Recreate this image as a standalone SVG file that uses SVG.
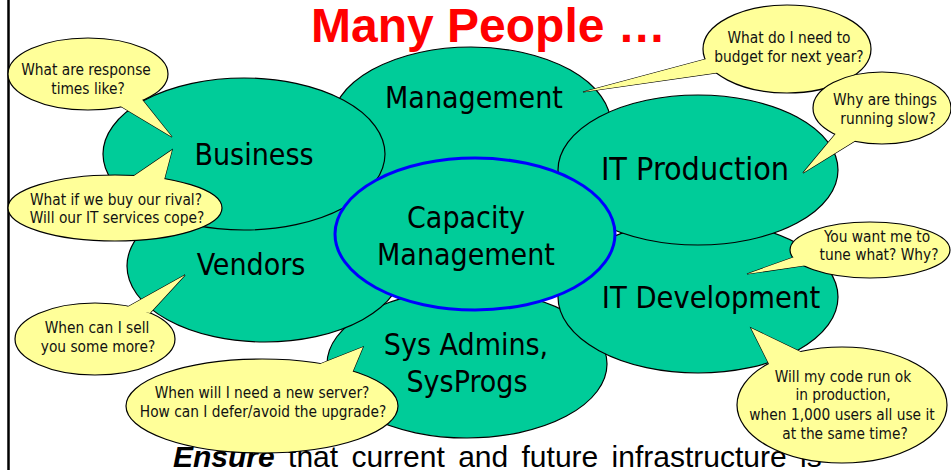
<svg xmlns="http://www.w3.org/2000/svg" width="951" height="470" viewBox="0 0 951 470">
<style>
.grp{fill:#00CC99;stroke:#000;stroke-width:1.2}
.cap{fill:#00CC99;stroke:#0000FF;stroke-width:3}
.lbl{font-family:"DejaVu Sans Condensed","DejaVu Sans","Liberation Sans",sans-serif;font-size:30px;fill:#000;text-anchor:middle}
.bub{fill:#FFFF99;stroke:#000;stroke-width:1.2}
.tailfill{fill:#FFFF99;stroke:none}
.bt{font-family:"DejaVu Sans Condensed","DejaVu Sans","Liberation Sans",sans-serif;font-size:15.3px;fill:#111;text-anchor:middle}
.title{font-family:"Liberation Sans",Arial,sans-serif;font-weight:bold;font-size:48px;fill:#FF0000}
.foot{font-family:"Liberation Sans",Arial,sans-serif;font-size:30px;fill:#000;word-spacing:5px}
</style>
<rect x="0" y="0" width="951" height="470" fill="#fff"/>
<line x1="8.5" y1="0" x2="8.5" y2="470" stroke="#000" stroke-width="2.5"/>
<text class="title" x="311" y="42">Many People …</text>

<g id="management"><ellipse class="grp" cx="471" cy="125" rx="140" ry="78"/><text class="lbl" x="474" y="108">Management</text></g>
<g id="sysadmins"><ellipse class="grp" cx="467" cy="364" rx="140" ry="74"/><text class="lbl" x="466" y="355">Sys Admins,</text><text class="lbl" x="467" y="392">SysProgs</text></g>
<g id="vendors"><ellipse class="grp" cx="265" cy="266" rx="138" ry="76"/><text class="lbl" x="251" y="275">Vendors</text></g>
<g id="business"><ellipse class="grp" cx="244" cy="154" rx="141" ry="76"/><text class="lbl" x="254" y="165">Business</text></g>
<g id="itdevelopment"><ellipse class="grp" cx="698" cy="297" rx="140" ry="76"/><text class="lbl" x="711" y="308" style="font-size:30.5px">IT Development</text></g>
<g id="itproduction"><ellipse class="grp" cx="698" cy="170" rx="140" ry="75"/><text class="lbl" x="695" y="180" style="font-size:32px">IT Production</text></g>
<g id="capacity"><ellipse class="cap" cx="475" cy="234" rx="140" ry="76"/><text class="lbl" x="466" y="228">Capacity</text><text class="lbl" x="466" y="265">Management</text></g>

<text class="foot" x="173" y="467"><tspan font-weight="bold" font-style="italic">Ensure</tspan> that current and future infrastructure is</text>

<g id="bubble-response">
<polygon class="bub" points="117,104 172,137 140,97"/><ellipse class="bub" cx="88" cy="74" rx="80" ry="36"/><polygon class="tailfill" points="117,104 172,137 140,97"/>
<text class="bt" x="86" y="75">What are response</text><text class="bt" x="88" y="94">times like?</text></g>
<g id="bubble-rival">
<polygon class="bub" points="128,180 172,150 163,184"/><ellipse class="bub" cx="115" cy="208" rx="107" ry="33"/><polygon class="tailfill" points="128,180 172,150 163,184"/>
<text class="bt" x="116" y="205">What if we buy our rival?</text><text class="bt" x="117" y="223">Will our IT services cope?</text></g>
<g id="bubble-budget">
<polygon class="bub" points="710,58 583,92 722,72"/><ellipse class="bub" cx="787" cy="49" rx="84" ry="44"/><polygon class="tailfill" points="710,58 583,92 722,72"/>
<text class="bt" x="789" y="43">What do I need to</text><text class="bt" x="789" y="62">budget for next year?</text></g>
<g id="bubble-slow">
<polygon class="bub" points="838,131 803,173 858,139"/><ellipse class="bub" cx="882" cy="108" rx="69" ry="36"/><polygon class="tailfill" points="838,131 803,173 858,139"/>
<text class="bt" x="885" y="105">Why are things</text><text class="bt" x="888" y="124">running slow?</text></g>
<g id="bubble-tune">
<polygon class="bub" points="800,255 747,274 815,264"/><ellipse class="bub" cx="870" cy="250" rx="80" ry="28"/><polygon class="tailfill" points="800,255 747,274 815,264"/>
<text class="bt" x="877" y="242">You want me to</text><text class="bt" x="879" y="260">tune what? Why?</text></g>
<g id="bubble-code">
<polygon class="bub" points="771,368 751,328 805,354"/><ellipse class="bub" cx="842" cy="405" rx="105" ry="58"/><polygon class="tailfill" points="771,368 751,328 805,354"/>
<text class="bt" x="843" y="382">Will my code run ok</text><text class="bt" x="843" y="400">in production,</text><text class="bt" x="842" y="420">when 1,000 users all use it</text><text class="bt" x="845" y="439">at the same time?</text></g>
<g id="bubble-sell">
<polygon class="bub" points="124,309 185,275 150,313"/><ellipse class="bub" cx="95" cy="339" rx="80" ry="36"/><polygon class="tailfill" points="124,309 185,275 150,313"/>
<text class="bt" x="97" y="333">When can I sell</text><text class="bt" x="98" y="352">you some more?</text></g>
<g id="bubble-server">
<polygon class="bub" points="315,366 363,347 350,378"/><ellipse class="bub" cx="262" cy="406" rx="136" ry="47"/><polygon class="tailfill" points="315,366 363,347 350,378"/>
<text class="bt" x="262" y="398">When will I need a new server?</text><text class="bt" x="263" y="417">How can I defer/avoid the upgrade?</text></g>
</svg>
